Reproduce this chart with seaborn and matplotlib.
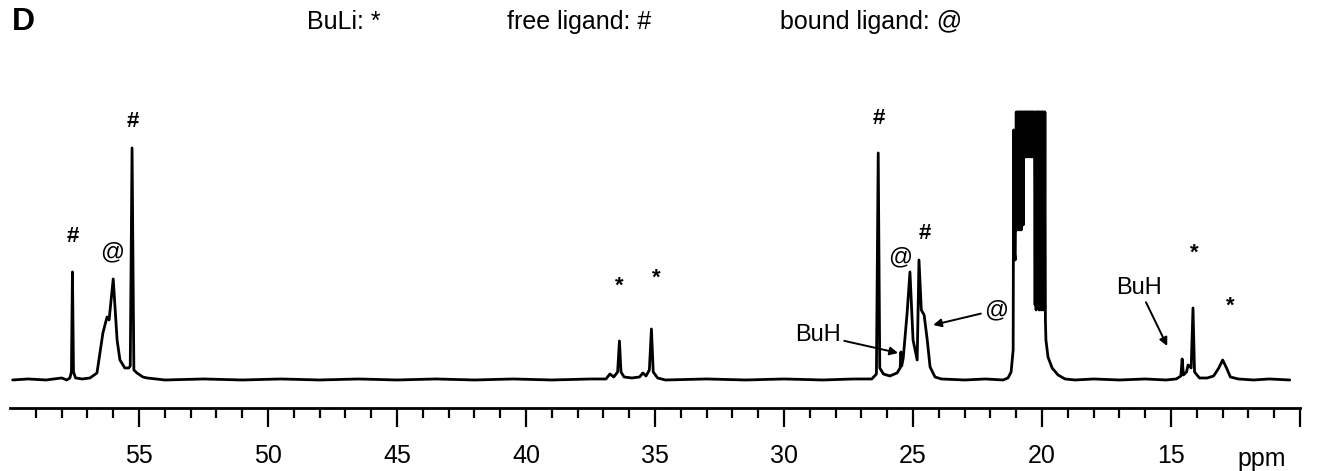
import matplotlib
matplotlib.use('Agg')
import matplotlib.pyplot as plt
import seaborn as sns

# spectrum trace: shift (ppm) and height above baseline (arb. units)
# the big solvent multiplet near 20.5 ppm is clipped at 268
ppm = [59.90, 59.30, 58.60, 58.00, 57.80, 57.68, 57.62, 57.58, 57.54, 57.46, 57.20,
       56.90, 56.63, 56.40, 56.24, 56.16, 56.00, 55.85, 55.74, 55.55, 55.40, 55.34,
       55.27, 55.20, 55.08, 54.85, 54.69, 54.00, 52.50, 51.00, 49.50, 48.00, 46.50,
       45.00, 43.50, 42.00, 40.50, 39.00, 37.50, 36.90, 36.75, 36.60, 36.45, 36.38,
       36.32, 36.20, 35.90, 35.60, 35.47, 35.35, 35.22, 35.14, 35.07, 34.90, 34.60,
       33.00, 31.50, 30.00, 28.50, 27.30, 26.60, 26.42, 26.35, 26.29, 26.15, 25.90,
       25.62, 25.50, 25.47, 25.44, 25.38, 25.23, 25.12, 25.00, 24.84, 24.77, 24.68,
       24.57, 24.45, 24.34, 24.15, 23.90, 23.00, 22.20, 21.51, 21.32, 21.20, 21.12,
       21.10, 21.08, 21.04, 21.00,
       20.97, 20.95, 20.93, 20.91, 20.89, 20.87, 20.85, 20.83, 20.81, 20.79, 20.77,
       20.75, 20.73, 20.71, 20.69, 20.67,
       20.65, 20.63, 20.61, 20.59, 20.57, 20.55, 20.53, 20.51, 20.49, 20.47, 20.45,
       20.43, 20.41, 20.39, 20.37, 20.35, 20.33, 20.31, 20.29,
       20.27, 20.25, 20.23, 20.21, 20.19, 20.17, 20.15, 20.13, 20.11, 20.09, 20.07,
       20.05, 20.03, 20.01, 19.99, 19.97, 19.95, 19.93, 19.91, 19.89, 19.87, 19.85,
       19.77, 19.61, 19.38,
       19.11, 18.72, 18.00, 17.00, 16.00, 15.20, 14.80, 14.62, 14.57, 14.52, 14.40,
       14.34, 14.22, 14.15, 14.09, 13.90, 13.60, 13.35, 13.15, 13.00, 12.85, 12.70,
       12.40, 11.80, 11.20, 10.40]
signal = [0, 1, 0, 2, 0, 2, 8, 108, 8, 2, 1,
          2, 7, 47, 63, 60, 101, 40, 20, 12, 12, 14,
          232, 10, 7, 3, 2, 0, 1, 0, 1, 0, 1,
          0, 1, 0, 1, 0, 1, 1, 6, 3, 8, 39,
          8, 3, 2, 3, 7, 4, 10, 51, 8, 2, 0,
          1, 0, 1, 0, 1, 1, 6, 227, 12, 6, 4,
          7, 12, 28, 14, 22, 67, 108, 40, 20, 120, 70,
          65, 40, 13, 3, 1, 0, 1, 0, 2, 8, 30,
          250, 130, 120, 268,
          150, 268, 155, 268, 150, 268, 160, 268, 150, 268,
          165, 268, 155, 268, 223, 268,
          223, 268, 225, 268, 223, 268, 228, 268, 223, 268,
          225, 268, 223, 268, 226, 268, 223, 268, 228,
          75, 268, 70, 268, 75, 268, 72, 268, 70, 268, 75,
          268, 70, 268, 72, 268, 70, 268, 70, 268, 60, 40,
          23, 12, 5,
          1, 0, 1, 0, 1, 0, 1, 4, 21, 5, 8,
          15, 12, 72, 8, 2, 2, 4, 12, 20, 12, 3,
          1, 0, 1, 0]

tick_ppm = [55, 50, 45, 40, 35, 30, 25, 20, 15, 10]
tick_labels = ['55', '50', '45', '40', '35', '30', '25', '20', '15', '']
minor_ppm = list(range(11, 60))

# peak markers: symbol, ppm, height
mark_text = ['#', '@', '#', '*', '*', '#', '@', '#', '*', '*']
mark_ppm = [57.56, 56.05, 55.23, 36.40, 34.95, 26.32, 25.50, 24.55, 14.11, 12.71]
mark_y = [143, 128, 258, 94, 102, 261, 123, 146, 127, 74]

legend_text = ['BuLi: *', 'free ligand: #', 'bound ligand: @']

sns.set_style('ticks')
plt.rcParams['font.family'] = ['Liberation Sans', 'DejaVu Sans']
plt.rcParams['text.color'] = 'black'
plt.rcParams['xtick.color'] = 'black'
plt.rcParams['axes.edgecolor'] = 'black'

fig = plt.figure(figsize=(13.36, 4.71), dpi=100)
ax = fig.add_axes([0.0075, 0.1338, 0.9656, 0.654])

sns.lineplot(x=ppm, y=signal, sort=False, estimator=None, color='black', lw=2, ax=ax)

ax.set_xlim(60, 10)
ax.set_ylim(-28, 280)
sns.despine(ax=ax, left=True, top=True, right=True)
ax.spines['bottom'].set_linewidth(2)
ax.set_yticks([])
ax.set_xticks(tick_ppm)
ax.set_xticklabels(tick_labels, fontsize=18)
ax.set_xticks(minor_ppm, minor=True)
ax.tick_params(axis='x', which='major', length=14, width=1.6, pad=12, direction='out')
ax.tick_params(axis='x', which='minor', length=7, width=1.6, direction='out')
ax.set_xlabel('')
ax.set_ylabel('')
ax.text(11.47, -0.165, 'ppm', transform=ax.get_xaxis_transform(), fontsize=18,
        ha='center', va='center')

for t, x, y in zip(mark_text, mark_ppm, mark_y):
    ax.text(x, y, t, fontsize=17 if t == '@' else 16, fontweight='bold' if t != '@' else 'normal',
            ha='center', va='center')

arrow = dict(arrowstyle='-|>', lw=1.4, color='black', mutation_scale=12, shrinkA=0, shrinkB=0)
ax.annotate('@', xy=(24.22, 55), xytext=(21.78, 70), fontsize=17, ha='center', va='center',
            arrowprops=arrow)
ax.annotate('BuH', xy=(25.58, 27), xytext=(28.68, 45), fontsize=17, ha='center', va='center',
            arrowprops=arrow)
ax.annotate('BuH', xy=(15.15, 34), xytext=(16.24, 92), fontsize=17, ha='center', va='center',
            arrowprops=arrow)

fig.text(12 / 1336, 1 - 22 / 471, 'D', fontsize=23, fontweight='bold', ha='left', va='center')
for t, x in zip(legend_text, [307, 507, 780]):
    fig.text(x / 1336, 1 - 22 / 471, t, fontsize=18, ha='left', va='center')

fig.savefig('out.png', dpi=100)
